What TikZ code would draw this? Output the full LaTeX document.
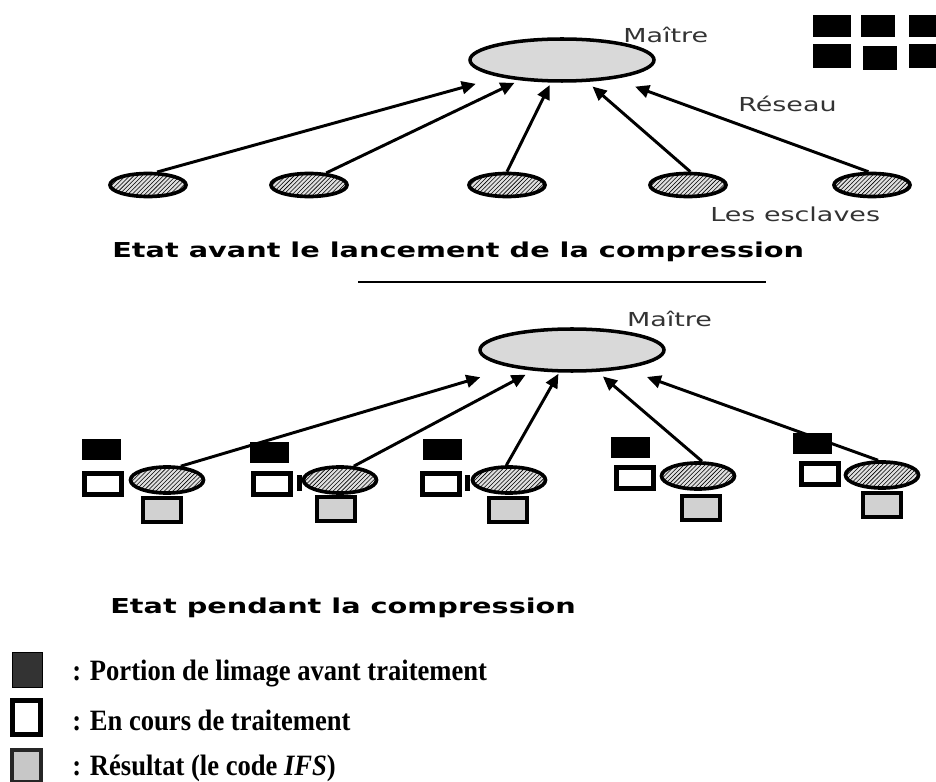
\documentclass[tikz,border=0pt]{standalone}
\usepackage{fontspec}
\usepackage{tikz}
\usetikzlibrary{arrows.meta, shapes.geometric, patterns}

\newfontfamily\figfont[FakeStretch=1.4]{DejaVu Sans}
\newfontfamily\legfont[FakeStretch=0.9]{Liberation Serif}

\begin{document}
\begin{tikzpicture}[
    master/.style={draw, ellipse, line width=2.5pt, fill=black!15, inner sep=0pt, minimum width=4.6cm, minimum height=1.05cm},
    slave/.style={draw, ellipse, line width=2.6pt, preaction={fill=black!12}, pattern=north east lines, inner sep=0pt, minimum width=1.9cm, minimum height=0.575cm},
    slavesm/.style={slave, minimum width=1.825cm, minimum height=0.65cm},
    link/.style={line width=2.1pt, -{Triangle[length=10pt, width=9pt]}},
    portion/.style={fill=black, inner sep=0pt, minimum width=0.975cm, minimum height=0.525cm},
    encours/.style={draw, fill=white, line width=3.5pt, inner sep=0pt, minimum width=0.925cm, minimum height=0.525cm},
    resultat/.style={draw, fill=black!18, line width=2.8pt, inner sep=0pt, minimum width=0.95cm, minimum height=0.6cm},
    lbl/.style={anchor=base west, inner sep=0pt, text=black!80, font=\figfont\fontsize{13.7}{16}\selectfont},
    titre/.style={anchor=base west, inner sep=0pt, font=\figfont\bfseries\fontsize{14.6}{17}\selectfont},
    legende/.style={anchor=base west, inner sep=0pt, font=\legfont\bfseries\fontsize{21}{24}\selectfont}
]
    \useasboundingbox (0,0) rectangle (23.4,-19.55);

    % Avant la compression
    \node[master] (mtop) at (14.05,-1.5) {};
    \node[lbl] (mtoplbl) at (15.575,-1.075) {Maître};

    \node[portion, minimum width=0.95cm, minimum height=0.55cm] (img1) at (20.79,-0.6625) {};
    \node[portion, minimum width=0.85cm, minimum height=0.55cm] (img2) at (21.95,-0.6625) {};
    \node[portion, minimum width=0.95cm, minimum height=0.55cm] (img3) at (23.2,-0.6625) {};
    \node[portion, minimum width=0.95cm, minimum height=0.6cm] (img4) at (20.79,-1.4) {};
    \node[portion, minimum width=0.85cm, minimum height=0.6cm] (img5) at (22.0,-1.45) {};
    \node[portion, minimum width=0.95cm, minimum height=0.6cm] (img6) at (23.2,-1.4) {};

    \node[slave] (s1) at (3.7,-4.625) {};
    \node[slave] (s2) at (7.725,-4.625) {};
    \node[slave] (s3) at (12.675,-4.625) {};
    \node[slave] (s4) at (17.2,-4.625) {};
    \node[slave] (s5) at (21.8,-4.625) {};

    \draw[link, shorten >=18pt] (s1.55) -- (mtop);
    \draw[link, shorten >=4pt] (s2.35) -- (mtop);
    \draw[link, shorten >=2pt] (s3.north) -- (mtop);
    \draw[link, shorten >=5pt] (s4.80) -- (mtop);
    \draw[link, shorten >=16pt] (s5.105) -- (mtop);

    \node[lbl] (reseau) at (18.45,-2.79) {Réseau};
    \node[lbl] (esclaves) at (17.75,-5.54) {Les esclaves};
    \node[titre] (avant) at (2.8,-6.45) {Etat avant le lancement de la compression};

    \draw[line width=2pt] (8.95,-7.05) -- (19.15,-7.05);

    % Pendant la compression
    \node[master] (mbot) at (14.3,-8.75) {};
    \node[lbl] (mbotlbl) at (15.67,-8.17) {Maître};

    \node[resultat] (g1) at (4.06,-12.75) {};
    \node[resultat] (g2) at (8.41,-12.73) {};
    \node[resultat] (g3) at (12.71,-12.75) {};
    \node[resultat] (g4) at (17.525,-12.7) {};
    \node[resultat] (g5) at (22.05,-12.625) {};

    \node[slavesm] (e1) at (4.175,-12) {};
    \node[slavesm] (e2) at (8.5,-12) {};
    \node[slavesm] (e3) at (12.725,-12) {};
    \node[slavesm] (e4) at (17.45,-11.9) {};
    \node[slavesm] (e5) at (22.05,-11.875) {};

    \draw[link, shorten >=24pt] (e1.45) -- (mbot);
    \draw[link, shorten >=6pt] (e2.45) -- (mbot);
    \draw[link, shorten >=1pt] (e3.100) -- (mbot);
    \draw[link, shorten >=5pt] (e4.75) -- (mbot);
    \draw[link, shorten >=17pt] (e5.105) -- (mbot);

    \node[portion] (b1) at (2.54,-11.24) {};
    \node[portion] (b2) at (6.74,-11.31) {};
    \node[portion] (b3) at (11.06,-11.24) {};
    \node[portion] (b4) at (15.76,-11.19) {};
    \node[portion] (b5) at (20.31,-11.09) {};

    \node[encours] (w1) at (2.575,-12.1) {};
    \node[encours] (w2) at (6.8,-12.1) {};
    \node[encours] (w3) at (11.025,-12.1) {};
    \node[encours] (w4) at (15.875,-11.94) {};
    \node[encours] (w5) at (20.5,-11.86) {};

    \node[portion, minimum width=0.125cm, minimum height=0.4cm] (t2) at (7.49,-12.075) {};
    \node[portion, minimum width=0.125cm, minimum height=0.4cm] (t3) at (11.69,-12.075) {};

    \node[titre] (pendant) at (2.75,-15.325) {Etat pendant la compression};

    % Legende
    \node[draw, fill=black!80, line width=0.6pt, inner sep=0pt, minimum width=0.75cm, minimum height=0.875cm] (leg1) at (0.675,-16.74) {};
    \node[encours, minimum width=0.7cm, minimum height=0.85cm] (leg2) at (0.6625,-17.94) {};
    \node[resultat, draw=black!85, fill=black!22, minimum width=0.725cm, minimum height=0.8cm] (leg3) at (0.6625,-19.14) {};

    \node[legende] (txt1) at (1.8,-17.0) {: Portion de limage avant traitement};
    \node[legende] (txt2) at (1.8,-18.25) {: En cours de traitement};
    \node[legende] (txt3) at (1.8,-19.375) {: Résultat (le code \textit{IFS})};

\end{tikzpicture}
\end{document}
